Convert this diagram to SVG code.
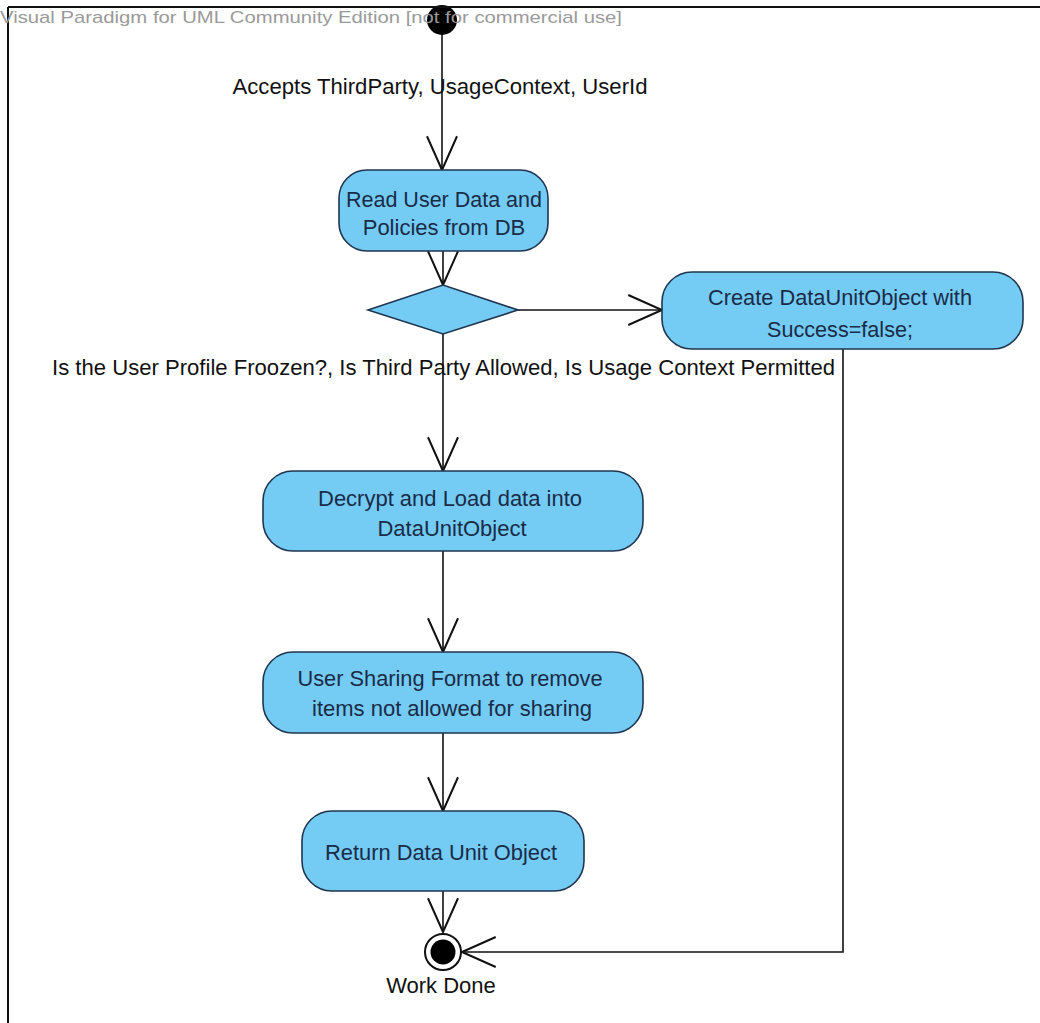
<svg xmlns="http://www.w3.org/2000/svg" width="1040" height="1023" viewBox="0 0 1040 1023">
<style>
.act rect{fill:#74ccf4;stroke:#1f3550;stroke-width:1.6}
.dec polygon{fill:#74ccf4;stroke:#1f3550;stroke-width:1.6}
.lbl{font-family:"Liberation Sans",Arial,sans-serif;font-size:22px;fill:#1a2b48;text-anchor:middle}
.txt{font-family:"Liberation Sans",Arial,sans-serif;font-size:22px;fill:#111;text-anchor:middle}
.hdr{font-family:"Liberation Sans",Arial,sans-serif;font-size:17px;fill:#9a9a9a}
.edge{fill:none;stroke:#111;stroke-width:1.6}
</style>
<defs>
<marker id="arr" markerUnits="userSpaceOnUse" markerWidth="40" markerHeight="40" viewBox="-30 -15 32 30" refX="0" refY="0" orient="auto">
<path d="M-27,-12 L0,0 L-27,12" fill="none" stroke="#111" stroke-width="1.6"/>
</marker>
</defs>
<rect x="0" y="0" width="1040" height="1023" fill="#fff"/>
<g id="connectors">
<path class="edge" d="M442,34 L442,170" marker-end="url(#arr)"/>
<path class="edge" d="M443,251 L443,285" marker-end="url(#arr)"/>
<path class="edge" d="M518,310 L662,310" marker-end="url(#arr)"/>
<path class="edge" d="M443,334 L443,471" marker-end="url(#arr)"/>
<path class="edge" d="M443,551 L443,652" marker-end="url(#arr)"/>
<path class="edge" d="M443,733 L443,811" marker-end="url(#arr)"/>
<path class="edge" d="M443,891 L443,932" marker-end="url(#arr)"/>
<path class="edge" d="M843,349 L843,952 L462,952" marker-end="url(#arr)"/>
</g>
<g id="start">
<circle cx="442" cy="20" r="15" fill="#000"/>
<text class="txt" x="440" y="94" textLength="415" lengthAdjust="spacingAndGlyphs">Accepts ThirdParty, UsageContext, UserId</text>
</g>
<g id="frame">
<line x1="8" y1="7" x2="1040" y2="7" stroke="#111" stroke-width="2"/>
<line x1="8" y1="7" x2="8" y2="1023" stroke="#111" stroke-width="2"/>
<text class="hdr" x="0" y="23" textLength="622" lengthAdjust="spacingAndGlyphs">Visual Paradigm for UML Community Edition [not for commercial use]</text>
</g>
<g id="read" class="act">
<rect x="339" y="170" width="209" height="81" rx="28" ry="28"/>
<text class="lbl" x="444" y="207" textLength="196" lengthAdjust="spacingAndGlyphs">Read User Data and</text>
<text class="lbl" x="444" y="235">Policies from DB</text>
</g>
<g id="decision" class="dec">
<polygon points="368,310 443,285 518,310 443,334"/>
<text class="txt" x="443.5" y="375" textLength="783" lengthAdjust="spacingAndGlyphs">Is the User Profile Froozen?, Is Third Party Allowed, Is Usage Context Permitted</text>
</g>
<g id="create" class="act">
<rect x="662" y="272" width="361" height="77" rx="30" ry="30"/>
<text class="lbl" x="840" y="305" textLength="264" lengthAdjust="spacingAndGlyphs">Create DataUnitObject with</text>
<text class="lbl" x="840" y="337" textLength="146" lengthAdjust="spacingAndGlyphs">Success=false;</text>
</g>
<g id="decrypt" class="act">
<rect x="263" y="471" width="380" height="80" rx="30" ry="30"/>
<text class="lbl" x="450" y="506" textLength="264" lengthAdjust="spacingAndGlyphs">Decrypt and Load data into</text>
<text class="lbl" x="452" y="536" textLength="149" lengthAdjust="spacingAndGlyphs">DataUnitObject</text>
</g>
<g id="sharing" class="act">
<rect x="263" y="652" width="380" height="81" rx="30" ry="30"/>
<text class="lbl" x="450" y="686" textLength="305" lengthAdjust="spacingAndGlyphs">User Sharing Format to remove</text>
<text class="lbl" x="452" y="716" textLength="280" lengthAdjust="spacingAndGlyphs">items not allowed for sharing</text>
</g>
<g id="return" class="act">
<rect x="302" y="811" width="282" height="80" rx="30" ry="30"/>
<text class="lbl" x="441" y="860" textLength="232" lengthAdjust="spacingAndGlyphs">Return Data Unit Object</text>
</g>
<g id="end">
<circle cx="443" cy="952" r="18" fill="#fff" stroke="#111" stroke-width="2"/>
<circle cx="443" cy="952" r="12.5" fill="#000"/>
<text class="txt" x="441" y="993">Work Done</text>
</g>
</svg>
